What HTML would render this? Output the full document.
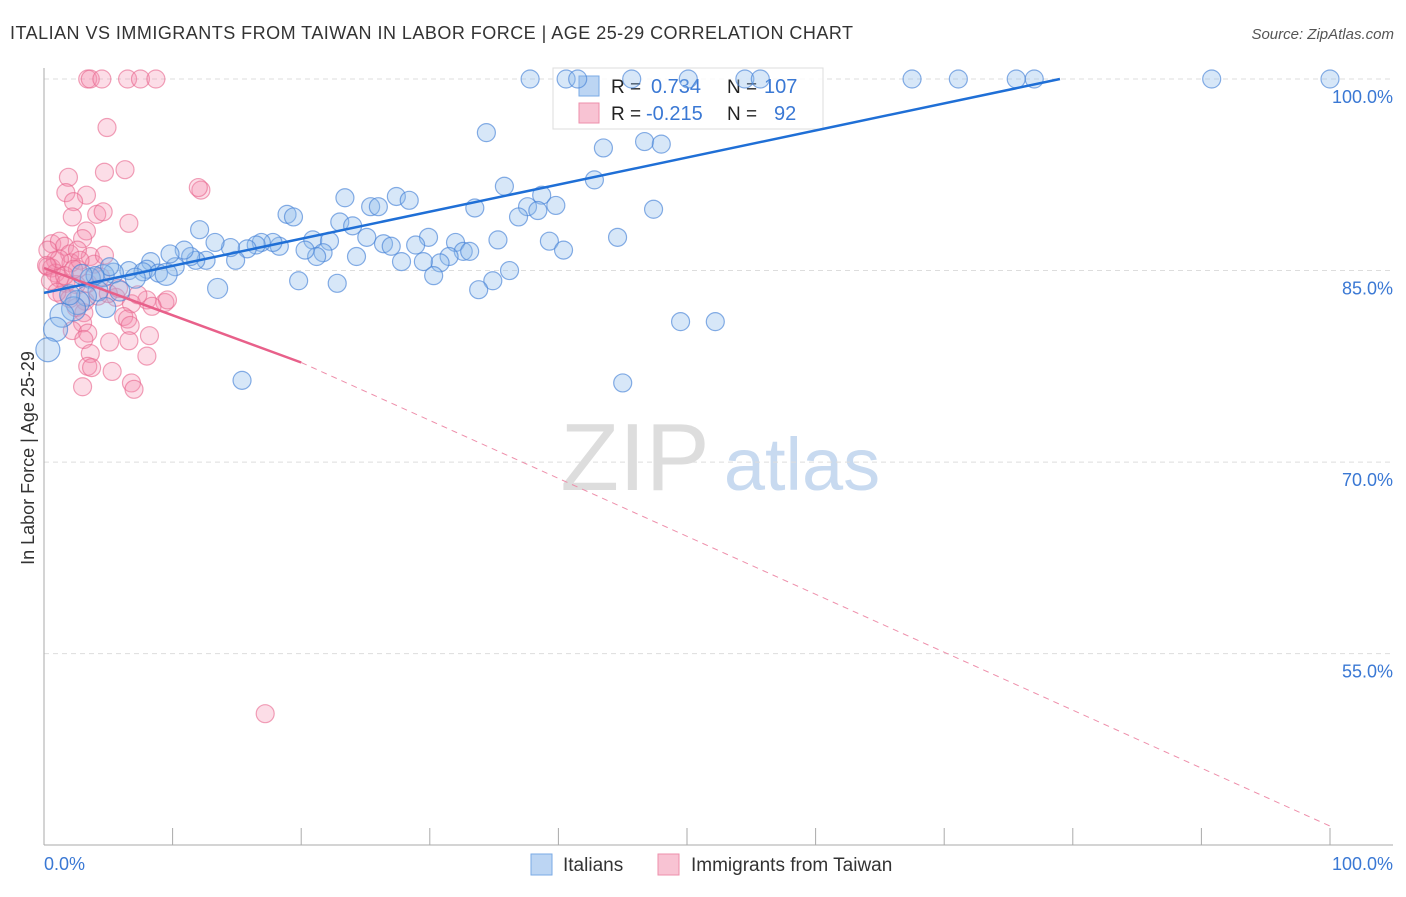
<!DOCTYPE html>
<html><head><meta charset="utf-8">
<style>
body{margin:0;background:#fff;font-family:"Liberation Sans",sans-serif;}
svg text{font-family:"Liberation Sans",sans-serif;}
</style></head>
<body>
<svg id="chart" width="1406" height="892" xmlns="http://www.w3.org/2000/svg">
<text x="10" y="39" font-size="18" fill="#333" textLength="843">ITALIAN VS IMMIGRANTS FROM TAIWAN IN LABOR FORCE | AGE 25-29 CORRELATION CHART</text>
<text x="1394" y="39" font-size="15" fill="#555" text-anchor="end" font-style="italic">Source: ZipAtlas.com</text>
<g>
<text x="635" y="490" font-size="96" fill="#ddd" font-family="Liberation Serif,serif" text-anchor="middle">ZIP</text>
<text x="802" y="490" font-size="74" fill="#c8daf0" text-anchor="middle">atlas</text>
</g>
<g id="grid"></g>
<g id="axes"></g>
<g>
<rect x="553" y="68" width="270" height="61" fill="rgba(255,255,255,0.85)" stroke="#ddd"/>
<rect x="579" y="76" width="20" height="20" fill="#bcd5f3" stroke="#7aaae6"/>
<rect x="579" y="103" width="20" height="20" fill="#f8c3d3" stroke="#ee8fab"/>
<text x="611" y="93" font-size="19" fill="#222">R = </text><text x="651" y="93" font-size="20" fill="#3a78d4">0.734</text>
<text x="727" y="93" font-size="19" fill="#222">N = </text><text x="764" y="93" font-size="20" fill="#3a78d4">107</text>
<text x="611" y="120" font-size="19" fill="#222">R = </text><text x="646" y="120" font-size="20" fill="#3a78d4">-0.215</text>
<text x="727" y="120" font-size="19" fill="#222">N = </text><text x="774" y="120" font-size="20" fill="#3a78d4">92</text>
</g>
<g id="pts"></g>
<g id="lines"></g>
<text x="34" y="458" font-size="18" fill="#333" text-anchor="middle" transform="rotate(-90 34 458)">In Labor Force | Age 25-29</text>
<text x="44" y="870" font-size="18" fill="#3a78d4">0.0%</text>
<text x="1393" y="870" font-size="18" fill="#3a78d4" text-anchor="end">100.0%</text>
<g>
<rect x="531" y="854" width="21" height="21" fill="#bcd5f3" stroke="#7aaae6"/>
<text x="563" y="871" font-size="19" fill="#333">Italians</text>
<rect x="658" y="854" width="21" height="21" fill="#f8c3d3" stroke="#ee8fab"/>
<text x="691" y="871" font-size="19" fill="#333">Immigrants from Taiwan</text>
</g>
</svg>
<script>
const yTicks=[100,85,70,55];
const yTickLabels=["100.0%","85.0%","70.0%","55.0%"];
const xTicks=[0,10,20,30,40,50,60,70,80,90,100];
const blueX=[37.8,40.6,41.5,45.7,50.1,54.5,55.7,67.5,71.1,75.6,77,90.8,100,34.4,43.5,46.7,48,42.8,35.8,23.4,27.4,28.4,38.7,25.4,26,33.5,37.6,39.8,38.4,36.9,47.4,18.9,19.4,23,24,20.9,25.1,29.9,26.4,27,28.9,32,35.3,44.6,39.3,40.4,32.6,33.1,31.5,30.8,29.5,27.8,24.3,22.2,21.7,21.2,20.3,18.3,17.8,16.9,16.5,15.8,14.9,14.5,13.3,12.6,11.8,11.4,10.9,10.2,8.3,8,6.6,7.7,8.9,9.5,5.4,4.6,3.6,5.9,7.1,4.2,3.3,2.6,2.3,1.4,0.9,0.3,45,34.9,30.3,33.8,49.5,52.2,15.4,19.8,12.1,9.8,5.1,3.97,2.95,2,4.8,13.5,22.8,36.2];
const blueY=[100,100,100,100,100,100,100,100,100,100,100,100,100,95.8,94.6,95.1,94.9,92.1,91.6,90.7,90.8,90.5,90.9,90,90,89.9,90,90.1,89.7,89.2,89.8,89.4,89.2,88.8,88.5,87.4,87.6,87.6,87.1,86.9,87,87.2,87.4,87.6,87.3,86.6,86.5,86.5,86.1,85.6,85.7,85.7,86.1,87.3,86.4,86.1,86.6,86.9,87.2,87.2,87,86.7,85.8,86.8,87.2,85.8,85.8,86.1,86.6,85.3,85.7,85.1,85,84.9,84.8,84.7,84.8,84.6,84.4,83.4,84.4,83.4,83,82.5,82,81.5,80.4,78.8,76.2,84.2,84.6,83.5,81,81,76.4,84.2,88.2,86.3,85.3,84.6,84.7,83.1,82.1,83.6,84,85,86.3];
const blueR=[9,9,9,9,9,9,9,9,9,9,9,9,9,9,9,9,9,9,9,9,9,9,9,9,9,9,9,9,9,9,9,9,9,9,9,9,9,9,9,9,9,9,9,9,9,9,9,9,9,9,9,9,9,9,9,9,9,9,9,9,9,9,9,9,9,9,9,9,9,9,9,9,9,9,9,11,10,11,10,10,10,10,10,12,12,12,12,12,9,9,9,9,9,9,9,9,9,9,9,9,10,10,10,10,9,9,9];
const pinkX=[3.4,3.6,4.5,6.5,7.5,8.7,4.9,6.3,4.7,1.9,1.7,12.2,12,3.3,2.3,4.1,2.2,4.6,6.6,3.3,3,0.6,1.2,1.6,2,0.9,0.3,0.6,0.9,1.2,0.5,1.7,2.1,2.6,3.6,3.9,3.4,2.5,1.4,2,3.2,4.2,5.6,8,9.4,9.6,8.4,6.8,2.5,3.1,6.2,6.5,3,2.2,3.4,6.7,3.1,8.2,5.1,6.6,3.6,8,3.4,3.7,6.8,7,3,5.3,17.2,2.6,2.8,1.2,0.3,0.2,5,5.8,7.3,4.7,1.6,1,2.3,4.4];
const pinkY=[100,100,100,100,100,100,96.2,92.9,92.7,92.3,91.1,91.3,91.5,90.9,90.4,89.4,89.2,89.6,88.7,88.1,87.5,87.1,87.3,86.9,86.3,85.8,85.3,85.2,84.8,84.4,84.2,84,85.6,85.1,86.1,85.5,84,83.9,83.1,82.8,82.6,83,82.9,82.7,82.5,82.7,82.2,82.4,82.1,81.7,81.4,81.2,80.9,80.3,80.1,80.7,79.6,79.9,79.4,79.5,78.5,78.3,77.5,77.4,76.2,75.7,75.9,77.1,50.3,86.6,85.8,85.9,86.6,85.4,83.2,83.6,83.1,86.2,84.6,83.3,85.1,84.5];
const blueLine=[[0,83.25],[79,100]];
const pinkSolid=[[0,85.2],[20,77.8]];
const pinkDash=[[20,77.8],[100,41.5]];
const X=v=>44+v*12.86, Y=v=>79+(100-v)*12.77;
const NS="http://www.w3.org/2000/svg";
function mk(t,a,p){const e=document.createElementNS(NS,t);for(const k in a)e.setAttribute(k,a[k]);document.getElementById(p).appendChild(e);return e;}
yTicks.forEach((v,i)=>{
 const l=mk('line',{x1:44,x2:1393,y1:Y(v),y2:Y(v),stroke:'#ddd','stroke-dasharray':'5,4'},'grid');
 
 
 const t=mk('text',{x:1393,y:Y(v)+24,'font-size':18,fill:'#3a78d4','text-anchor':'end'},'grid');
 t.textContent=yTickLabels[i];
 
 
});
const ax=mk('line',{x1:44,x2:44,y1:68,y2:845,stroke:'#aaa'},'axes');


const bx=mk('line',{x1:44,x2:1393,y1:845,y2:845,stroke:'#aaa'},'axes');


xTicks.forEach(v=>{
 const t=mk('line',{x1:X(v),x2:X(v),y1:828,y2:845,stroke:'#aaa'},'axes');
 
 
});
pinkX.forEach((x,i)=>{
 const c=mk('circle',{cx:X(x),cy:Y(pinkY[i]),r:9,fill:'rgba(244,143,177,0.3)',stroke:'rgba(232,100,140,0.6)','stroke-width':1.2},'pts');
 
 
});
blueX.forEach((x,i)=>{
 const c=mk('circle',{cx:X(x),cy:Y(blueY[i]),r:blueR[i]||9,fill:'rgba(140,185,235,0.35)',stroke:'rgba(70,130,215,0.65)','stroke-width':1.2},'pts');
 
 
});
const bl=mk('line',{x1:X(blueLine[0][0]),y1:Y(blueLine[0][1]),x2:X(blueLine[1][0]),y2:Y(blueLine[1][1]),stroke:'#1f6fd6','stroke-width':2.5},'lines');


const ps=mk('line',{x1:X(pinkSolid[0][0]),y1:Y(pinkSolid[0][1]),x2:X(pinkSolid[1][0]),y2:Y(pinkSolid[1][1]),stroke:'#e8608a','stroke-width':2.5},'lines');


const pd=mk('line',{x1:X(pinkDash[0][0]),y1:Y(pinkDash[0][1]),x2:X(pinkDash[1][0]),y2:Y(pinkDash[1][1]),stroke:'#ee8fab','stroke-width':1,'stroke-dasharray':'6,5'},'lines');


</script>
</body></html>
